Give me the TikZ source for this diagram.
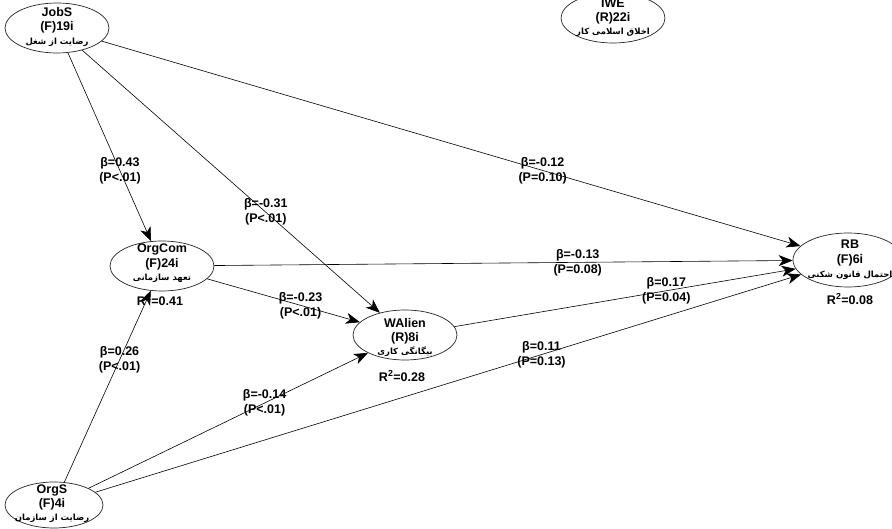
\documentclass[tikz,border=0pt]{standalone}
\usepackage{fontspec}
\setmainfont{Liberation Sans}
\newfontfamily\fa[Script=Arabic]{DejaVu Sans}
\TeXXeTstate=1
\usetikzlibrary{arrows.meta,calc,shapes.geometric}
\begin{document}
\begin{tikzpicture}[x=1pt,y=-1pt,
  lv/.style={ellipse, draw=black!85, line width=0.7pt, minimum width=104pt, minimum height=50pt, inner sep=0pt},
  ttl/.style={font=\bfseries\fontsize{12.5}{13}\selectfont, inner sep=0pt},
  per/.style={font=\fa\bfseries\fontsize{8.5}{9}\selectfont, inner sep=0pt},
  lab/.style={font=\bfseries\fontsize{12.5}{15}\selectfont, align=center, inner sep=0pt},
  rsq/.style={font=\bfseries\fontsize{12.5}{13}\selectfont, inner sep=0pt},
  path/.style={draw=black, line width=0.6pt, -{Stealth[length=14pt,width=11pt,inset=4pt]}}
]
\useasboundingbox (0,0) rectangle (892,529);
\clip (0,0) rectangle (892,529);
\fill[white] (0,0) rectangle (892,529);

% latent variables
\node[lv] (jobs) at (57,28) {};
\node[lv] (iwe) at (613,18) {};
\node[lv] (orgcom) at (162,266) {};
\node[lv] (walien) at (405,335) {};
\node[lv, minimum width=110pt, minimum height=54pt] (rb) at (848,260) {};
\node[lv, minimum width=98pt, minimum height=46pt] (orgs) at (54,505) {};

% texts inside ellipses
\node[ttl] at ($(jobs)+(0,-16)$) {JobS};
\node[ttl] at ($(jobs)+(0,-1)$) {(F)19i};
\node[per] at ($(jobs)+(0,14)$) {\beginR رضایت از شغل\endR};

\node[ttl] at ($(iwe)+(0,-15)$) {IWE};
\node[ttl] at (iwe) {(R)22i};
\node[per] at ($(iwe)+(0,14)$) {\beginR اخلاق اسلامی کار\endR};

\node[ttl] at ($(orgcom)+(0,-17)$) {OrgCom};
\node[ttl] at ($(orgcom)+(0,-2)$) {(F)24i};
\node[per] at ($(orgcom)+(0,12)$) {\beginR تعهد سازمانی\endR};

\node[ttl] at ($(walien)+(0,-12)$) {WAlien};
\node[ttl] at ($(walien)+(0,3)$) {(R)8i};
\node[per] at ($(walien)+(0,17)$) {\beginR بیگانگی کاری\endR};

\node[ttl] at ($(rb)+(2,-16)$) {RB};
\node[ttl] at ($(rb)+(2,0)$) {(F)6i};
\node[per] at ($(rb)+(2,15)$) {\beginR احتمال قانون شکنی\endR};

\node[ttl] at ($(orgs)+(-2,-15)$) {OrgS};
\node[ttl] at ($(orgs)+(-2,-1)$) {(F)4i};
\node[per] at ($(orgs)+(-2,13)$) {\beginR رضایت از سازمان\endR};

% R squared
\node[rsq] (r1) at (160,300) {R$^{\mathbf 2}$=0.41};
\node[rsq] (r2) at (402,376) {R$^{\mathbf 2}$=0.28};
\node[rsq] (r3) at (850,299) {R$^{\mathbf 2}$=0.08};

% paths
\draw[path] (jobs) -- (orgcom);
\draw[path] (jobs) -- (walien);
\draw[path] (jobs) -- (rb);
\draw[path] (orgcom) -- (rb);
\draw[path] (orgcom) -- (walien);
\draw[path] (walien) -- (rb);
\draw[path] (orgs) -- (orgcom);
\draw[path] (orgs) -- (walien);
\draw[path] (orgs) -- (rb);

% path labels
\node[lab] (l1) at ($(jobs)!0.6!(orgcom)$) {β=0.43\\(P<.01)};
\node[lab] (l2) at ($(jobs)!0.6!(walien)$) {β=-0.31\\(P<.01)};
\node[lab] (l3) at ($(jobs)!0.614!(rb)$) {β=-0.12\\(P=0.10)};
\node[lab] (l4) at ($(orgcom)!0.606!(rb)$) {β=-0.13\\(P=0.08)};
\node[lab] (l5) at ($(orgcom)!0.57!(walien)$) {β=-0.23\\(P<.01)};
\node[lab] (l6) at ($(walien)!0.59!(rb)$) {β=0.17\\(P=0.04)};
\node[lab] (l7) at ($(orgs)!0.607!(orgcom)$) {β=0.26\\(P<.01)};
\node[lab] (l8) at ($(orgs)!0.6!(walien)$) {β=-0.14\\(P<.01)};
\node[lab] (l9) at ($(orgs)!0.614!(rb)$) {β=0.11\\(P=0.13)};
\end{tikzpicture}
\end{document}
